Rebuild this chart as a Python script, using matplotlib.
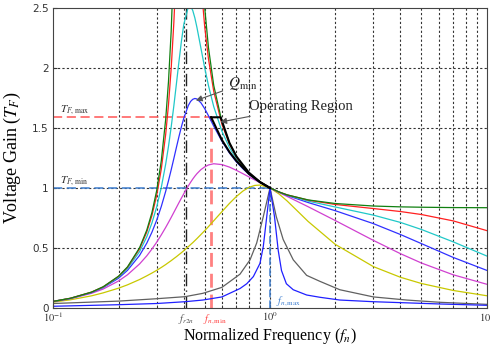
import matplotlib
matplotlib.use("Agg")
import matplotlib.pyplot as plt
from matplotlib.ticker import FixedLocator, NullFormatter

plt.rcParams['mathtext.fontset'] = 'stix'

# normalized frequency grid for the low-Q family
fn = [0.1, 0.12, 0.15, 0.17, 0.2, 0.22, 0.25, 0.27, 0.285, 0.3, 0.315, 0.33, 0.34,
      0.35, 0.36, 0.37, 0.38, 0.39, 0.4, 0.42, 0.43, 0.44, 0.45, 0.46, 0.48, 0.5,
      0.52, 0.55, 0.6, 0.65, 0.7, 0.75, 0.8, 0.85, 0.9, 1.0, 1.1, 1.2, 1.5, 2, 3,
      4, 5, 7, 10]

gain_q0 = [0.053, 0.079, 0.130, 0.175, 0.263, 0.341, 0.50, 0.648, 0.792, 0.978, 1.226,
           1.571, 1.886, 2.311, 2.914, 3.83, 5.41, 8.7, 20.0, 15.1, 8.45, 5.99, 4.71,
           3.925, 3.012, 2.50, 2.172, 1.856, 1.552, 1.376, 1.263, 1.184, 1.127, 1.083,
           1.049, 1.0, 0.967, 0.942, 0.90, 0.870, 0.849, 0.842, 0.839, 0.836, 0.835]
gain_q01 = [0.053, 0.079, 0.130, 0.174, 0.261, 0.337, 0.491, 0.632, 0.768, 0.938, 1.157,
            1.446, 1.693, 2.0, 2.382, 2.857, 3.43, 4.065, 4.63, 4.83, 4.48, 4.03, 3.615,
            3.257, 2.712, 2.341, 2.078, 1.806, 1.531, 1.366, 1.258, 1.181, 1.125, 1.083,
            1.049, 1.0, 0.966, 0.942, 0.898, 0.862, 0.828, 0.803, 0.778, 0.725, 0.644]
gain_q02 = [0.053, 0.078, 0.128, 0.171, 0.255, 0.327, 0.468, 0.592, 0.706, 0.841, 1.004,
            1.198, 1.346, 1.51, 1.686, 1.871, 2.054, 2.223, 2.364, 2.514, 2.518, 2.482,
            2.42, 2.341, 2.167, 2.0, 1.855, 1.679, 1.473, 1.337, 1.242, 1.173, 1.121,
            1.081, 1.048, 1.0, 0.966, 0.940, 0.890, 0.841, 0.773, 0.712, 0.653, 0.550,
            0.432]
gain_q03 = [0.053, 0.077, 0.126, 0.168, 0.246, 0.312, 0.436, 0.539, 0.629, 0.731, 0.845,
            0.971, 1.060, 1.152, 1.246, 1.339, 1.428, 1.510, 1.582, 1.689, 1.722, 1.740,
            1.747, 1.743, 1.711, 1.661, 1.603, 1.516, 1.390, 1.292, 1.217, 1.160, 1.114,
            1.077, 1.047, 1.0, 0.965, 0.937, 0.878, 0.810, 0.702, 0.611, 0.535, 0.420,
            0.312]
gain_q05 = [0.051, 0.075, 0.120, 0.156, 0.223, 0.275, 0.365, 0.433, 0.489, 0.547, 0.608,
            0.670, 0.712, 0.754, 0.796, 0.837, 0.877, 0.915, 0.951, 1.018, 1.047, 1.074,
            1.098, 1.119, 1.153, 1.176, 1.192, 1.202, 1.195, 1.174, 1.147, 1.119, 1.092,
            1.067, 1.043, 1.0, 0.962, 0.929, 0.843, 0.728, 0.562, 0.451, 0.373, 0.275,
            0.196]
gain_q1 = [0.047, 0.066, 0.099, 0.124, 0.163, 0.191, 0.235, 0.266, 0.289, 0.312, 0.336,
           0.360, 0.377, 0.393, 0.410, 0.426, 0.443, 0.459, 0.476, 0.510, 0.527, 0.543,
           0.560, 0.577, 0.611, 0.644, 0.677, 0.726, 0.802, 0.871, 0.929, 0.974, 1.005,
           1.021, 1.024, 1.0, 0.950, 0.891, 0.720, 0.529, 0.343, 0.254, 0.202, 0.144,
           0.100]

# high-Q narrow curves
fn_k = [0.1, 0.2, 0.3, 0.405, 0.49, 0.6, 0.727, 0.809, 0.868, 0.931, 1.0, 1.069,
        1.15, 1.28, 1.476, 1.7, 2.1, 3.0, 4.27, 6.1, 10]
gain_k = [0.035, 0.055, 0.075, 0.092, 0.12, 0.17, 0.28, 0.40, 0.54, 0.76, 1.0, 0.76,
          0.57, 0.40, 0.27, 0.22, 0.15, 0.09, 0.064, 0.045, 0.028]
fn_b = [0.1, 0.2, 0.3, 0.405, 0.49, 0.6, 0.727, 0.781, 0.838, 0.899, 0.931, 0.966,
        1.0, 1.049, 1.091, 1.13, 1.19, 1.28, 1.476, 1.7, 2.1, 3.0, 6.1, 10]
gain_b = [0.012, 0.025, 0.035, 0.05, 0.064, 0.09, 0.16, 0.20, 0.26, 0.37, 0.51, 0.76,
          1.0, 0.76, 0.48, 0.31, 0.20, 0.15, 0.106, 0.087, 0.064, 0.05, 0.031, 0.02]

# operating region boundary
fn_low = [0.535, 0.6, 0.65, 0.7, 0.8, 0.9, 1.0]
gain_low = [1.59, 1.40, 1.30, 1.225, 1.117, 1.048, 1.0]
fn_up = [0.535, 0.592, 0.65, 0.7, 0.8, 0.9, 1.0]
gain_up = [1.59, 1.59, 1.376, 1.263, 1.127, 1.049, 1.0]

tf_max, tf_min = 1.59, 1.0
f_r2n, f_nmin, f_nmax = 0.408, 0.535, 1.0

fig = plt.figure(figsize=(4.9, 3.47), dpi=100)
ax = fig.add_axes([53.3 / 490, 39.3 / 347, 433.4 / 490, 299.4 / 347])

# grid
grid_x = [0.2, 0.3, 0.4, 0.5, 0.6, 0.7, 0.8, 0.9, 1, 2, 3, 4, 5, 6, 7, 8, 9]
for gx in grid_x:
    ax.axvline(gx, color='#333333', ls=(0, (2, 2)), lw=0.8, zorder=0)
for gy in [0.5, 1.0, 1.5, 2.0]:
    ax.axhline(gy, color='#333333', ls=(0, (2, 2)), lw=0.8, zorder=0)

# reference lines
ax.plot([0.1, f_nmin], [tf_max, tf_max], color='#ff5555', ls=(0, (6, 3)), lw=1.1)
ax.plot([f_nmin, f_nmin], [0, tf_max], color='#ff8080', ls=(0, (5, 2.5)), lw=2)
ax.plot([0.1, f_nmax], [tf_min, tf_min], color='#3f7fd0', ls=(0, (6, 3)), lw=1.1)
ax.plot([f_nmax, f_nmax], [0, tf_min], color='#3f7fd0', ls=(0, (5, 2)), lw=1.1)
ax.axvline(f_r2n, color='#222222', ls=(0, (9, 3, 1, 3)), lw=1.0)

ax.plot(fn, gain_q1, color='#c8c800', lw=0.9)
ax.plot(fn, gain_q05, color='#d040d0', lw=0.9)
ax.plot(fn, gain_q03, color='#3030ff', lw=0.9)
ax.plot(fn, gain_q02, color='#20c8c8', lw=0.9)
ax.plot(fn, gain_q01, color='#ff2020', lw=0.9)
ax.plot(fn, gain_q0, color='#108010', lw=0.9)
ax.plot(fn_k, gain_k, color='#606060', lw=0.9)
ax.plot(fn_b, gain_b, color='#2020ff', lw=0.9)

ax.plot(fn_low, gain_low, color='black', lw=1.5)
ax.plot(fn_up, gain_up, color='black', lw=1.5)

ax.set_xscale('log')
ax.set_xlim(0.1, 10)
ax.set_ylim(0, 2.5)
ax.xaxis.set_major_locator(FixedLocator([0.1, 1, 10]))
ax.xaxis.set_minor_locator(FixedLocator(grid_x))
ax.xaxis.set_minor_formatter(NullFormatter())
ax.set_xticklabels(['$10^{-1}$', '$10^{0}$', '$10^{1}$'])
ax.set_yticks([0, 0.5, 1, 1.5, 2, 2.5])
ax.set_yticklabels(['0', '0.5', '1', '1.5', '2', '2.5'])
ax.tick_params(axis='both', which='both', direction='in', labelsize=7.5,
               labelcolor='#333333', color='#333333', length=3)
ax.tick_params(axis='x', which='major', pad=2)
ax.tick_params(axis='both', which='minor', length=2)
for s in ax.spines.values():
    s.set_color('#444444')

ax.set_xlabel('Normalized Frequency ($f_n$)', family='Liberation Serif', fontsize=11.5)
ax.xaxis.set_label_coords(0.5, -0.062)
ax.set_ylabel('Voltage Gain ($T_F$)', family='Liberation Serif', fontsize=13, labelpad=6)

ax.text(0.107, 1.63, '$T_{F,\\max}$', fontsize=8, color='#333333')
ax.text(0.107, 1.04, '$T_{F,\\min}$', fontsize=8, color='#333333')
ax.text(0.375, -0.035, '$f_{r2n}$', fontsize=7.5, color='#555555', va='top')
ax.text(0.49, -0.035, '$f_{n,\\min}$', fontsize=7.5, color='#ff4040', va='top')
ax.text(1.07, 0.035, '$f_{n,\\max}$', fontsize=7.5, color='#3f7fd0')

ax.annotate('$Q_{\\min}$', xy=(0.455, 1.73), xytext=(0.64, 1.87), fontsize=11,
            color='#222222', va='center',
            arrowprops=dict(arrowstyle='-|>', color='#555555', lw=0.8,
                            mutation_scale=9, shrinkB=0))
ax.annotate('Operating Region', xy=(0.59, 1.55), xytext=(0.8, 1.68),
            family='Liberation Serif', fontsize=10.5, color='#222222', va='center',
            arrowprops=dict(arrowstyle='-|>', color='#555555', lw=0.8,
                            mutation_scale=9, shrinkB=0))

fig.savefig('out.png', dpi=100)
